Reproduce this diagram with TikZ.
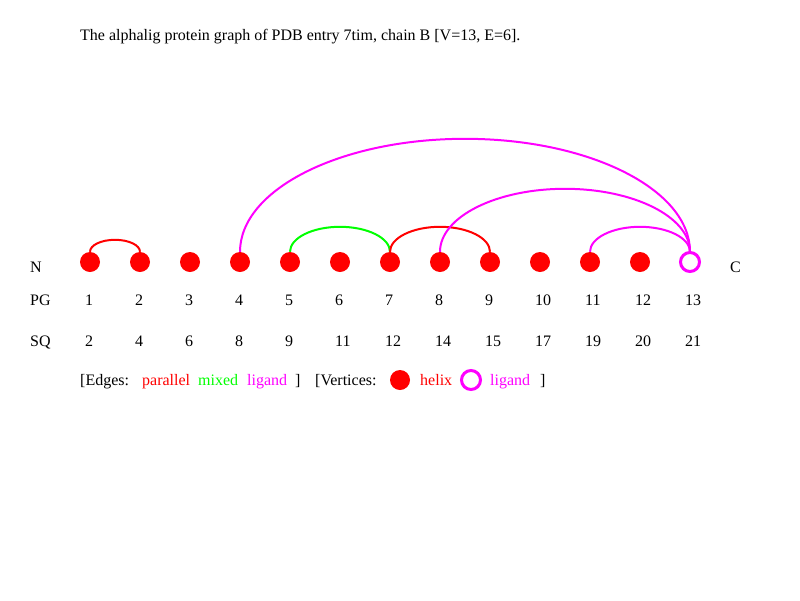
\documentclass[tikz,border=0pt]{standalone}
\usepackage{fontspec}
\setmainfont{Liberation Serif}
\definecolor{pred}{RGB}{255,0,0}
\definecolor{pgreen}{RGB}{0,255,0}
\definecolor{pmag}{RGB}{255,0,255}
\begin{document}
\begin{tikzpicture}[x=1pt,y=-1pt,
  helixv/.style={circle,fill=pred,minimum size=20pt,inner sep=0pt},
  ligv/.style={circle,draw=pmag,line width=3pt,minimum size=19pt,inner sep=0pt,fill=white},
  lbl/.style={anchor=base west,inner sep=0pt,font=\fontsize{16}{18}\selectfont},
  arcedge/.style={line width=2pt}]
\useasboundingbox (0,0) rectangle (800,600);
\node[lbl] (title) at (80,40) {The alphalig protein graph of PDB entry 7tim, chain B [V=13, E=6].};
\node[lbl] (nlab) at (30,272) {N};
\node[lbl] (clab) at (730,272) {C};
\node[lbl] (pglab) at (30,305) {PG};
\node[lbl] (sqlab) at (30,346) {SQ};
\foreach \i/\s in {1/2,2/4,3/6,4/8,5/9,6/11,7/12,8/14,9/15,10/17,11/19,12/20,13/21}{
  \node[lbl] (pg\i) at ({90+50*(\i-1)-5},305) {\i};
  \node[lbl] (sq\i) at ({90+50*(\i-1)-5},346) {\s};
}
\foreach \i in {1,...,12}{
  \node[helixv] (v\i) at ({90+50*(\i-1)},262) {};
}
% edges
\draw[arcedge,pred] (v1.north) arc[start angle=180,end angle=360,x radius=25,y radius=12];
\draw[arcedge,pgreen] (v5.north) arc[start angle=180,end angle=360,x radius=50,y radius=25];
\draw[arcedge,pred] (v7.north) arc[start angle=180,end angle=360,x radius=50,y radius=25];
\draw[arcedge,pmag] (v8.north) arc[start angle=180,end angle=360,x radius=125,y radius=63];
\draw[arcedge,pmag] (v4.north) arc[start angle=180,end angle=360,x radius=225,y radius=113];
\draw[arcedge,pmag] (v11.north) arc[start angle=180,end angle=360,x radius=50,y radius=25];
\node[ligv] (v13) at (690,262) {};
% legend
\node[lbl] (l1) at (80,385) {[Edges:};
\node[lbl,text=pred] (l2) at (142,385) {parallel};
\node[lbl,text=pgreen] (l3) at (198,385) {mixed};
\node[lbl,text=pmag] (l4) at (247,385) {ligand};
\node[lbl] (l5) at (295,385) {]};
\node[lbl] (l6) at (315,385) {[Vertices:};
\node[helixv] (lv1) at (400,380) {};
\node[lbl,text=pred] (l7) at (420,385) {helix};
\node[ligv] (lv2) at (471,380) {};
\node[lbl,text=pmag] (l8) at (490,385) {ligand};
\node[lbl] (l9) at (540,385) {]};
\end{tikzpicture}
\end{document}
